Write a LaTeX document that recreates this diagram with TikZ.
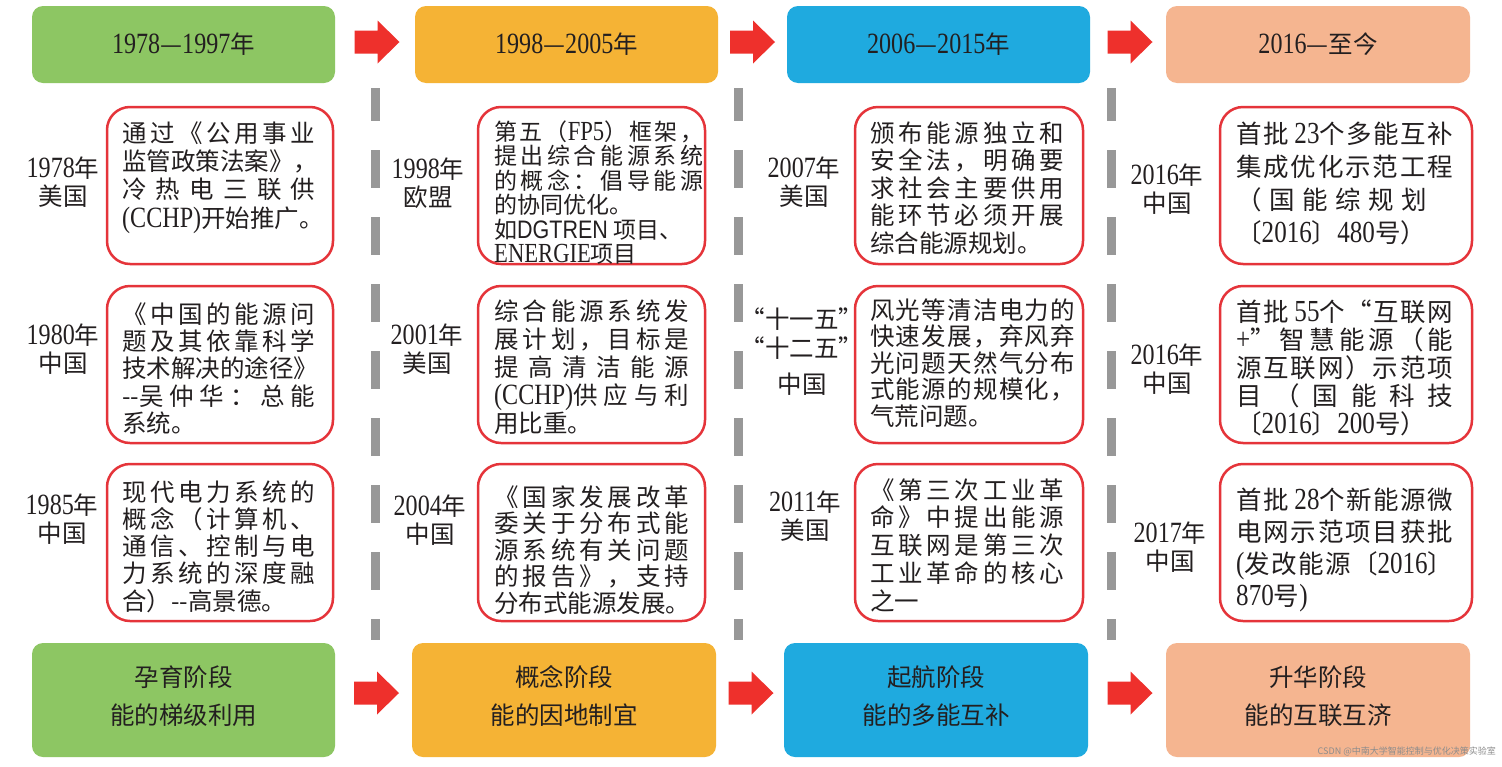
\documentclass[tikz,border=0pt]{standalone}
\usepackage{fontspec}
\usetikzlibrary{calc}
\newfontfamily\cjk{Noto Sans CJK SC}
\newfontfamily\tnr{Liberation Serif}[Scale=1.2,FakeStretch=0.82]
\newfontfamily\arialf{Liberation Sans}[Scale=1.1,FakeStretch=0.85]
\newcommand\T[1]{{\tnr #1}}
\newcommand\A[1]{{\arialf #1}}
\setlength\parindent{0pt}
% inter-character glue for justified CJK lines
\newcount\hcnt
\hcnt="4E00
\loop
  \XeTeXcharclass\hcnt=100
\ifnum\hcnt<"9FFF
  \advance\hcnt by 1
\repeat
\XeTeXcharclass`《=100 \XeTeXcharclass`》=100 \XeTeXcharclass`，=100
\XeTeXcharclass`。=100 \XeTeXcharclass`、=100 \XeTeXcharclass`：=100
\XeTeXcharclass`（=100 \XeTeXcharclass`）=100 \XeTeXcharclass`“=100
\XeTeXcharclass`”=100 \XeTeXcharclass`〔=100 \XeTeXcharclass`〕=100
\def\cjkglue{}
\XeTeXinterchartoks 100 100 = {\cjkglue}
\XeTeXinterchartokenstate=1
\newcommand\jb{\penalty-10000\relax}
\newcommand\rb{\hskip0pt plus 1fill\penalty-10000\relax}
\definecolor{cgreen}{HTML}{8DC663}
\definecolor{corange}{HTML}{F5B335}
\definecolor{cblue}{HTML}{1FAADF}
\definecolor{csalmon}{HTML}{F5B590}
\definecolor{boxred}{HTML}{E5343A}
\definecolor{arrowred}{HTML}{EE302C}
\definecolor{dashgray}{HTML}{989898}
\definecolor{textc}{HTML}{231F20}
\tikzset{
  phase/.style={rounded corners=11pt, minimum width=303pt, minimum height=77pt, inner sep=0pt,
    text=textc, font=\cjk\fontsize{24.5}{38}\selectfont, align=center},
  redbox/.style={draw=boxred, line width=2.5pt, rounded corners=23pt, minimum height=157pt, inner sep=0pt},
  yearlbl/.style={font=\cjk\fontsize{24.5}{28.5}\selectfont, align=center, inner sep=0pt, text=textc},
  desc/.style={align=justify, inner sep=0pt, text=textc},
  gline/.style={draw=dashgray, line width=9pt, dash pattern=on 38pt off 29pt, dash phase=5pt},
}
\newcommand\desc[7]{%
  \node[desc, text width=#4pt, anchor=north west, font=\cjk\fontsize{#6}{#5}\selectfont] (#1) at (#2,#3-14)
  {\def\cjkglue{\nobreak\hskip0pt plus 1fil\relax}\parfillskip=0pt plus 1fill\lineskiplimit=-100pt\baselineskip=#5pt\rule{0pt}{23pt}#7\par};}
\newcommand\blockarrow[1]{\fill[arrowred, shift={(#1)}] (-22.5,-11.5) -- (0.5,-11.5) -- (0.5,-21.5) -- (22.5,0) -- (0.5,21.5) -- (0.5,11.5) -- (-22.5,11.5) -- cycle;}
\begin{document}
\begin{tikzpicture}[x=1pt,y=-1pt]
\useasboundingbox (0,0) rectangle (1502,766);
\fill[white] (0,0) rectangle (1502,766);
% dashed separators
\draw[gline] (375,88) -- (375,640);
\draw[gline] (738,88) -- (738,640);
\draw[gline] (1111,88) -- (1111,640);
% top period boxes
\node[phase, fill=cgreen] (t1) at (183.5,44.5) {\T{1978}—\T{1997}年};
\node[phase, fill=corange] (t2) at (566.5,44.5) {\T{1998}—\T{2005}年};
\node[phase, fill=cblue] (t3) at (938.5,44.5) {\T{2006}—\T{2015}年};
\node[phase, fill=csalmon, minimum width=304pt] (t4) at (1318,44.5) {\T{2016}—至今};
% bottom stage boxes
\node[phase, fill=cgreen, minimum height=114pt] (s1) at (183.5,700) {孕育阶段\\能的梯级利用\rule[-10pt]{0pt}{10pt}};
\node[phase, fill=corange, minimum width=304pt, minimum height=114pt] (s2) at (564,700) {概念阶段\\能的因地制宜\rule[-10pt]{0pt}{10pt}};
\node[phase, fill=cblue, minimum width=304pt, minimum height=114pt] (s3) at (936,700) {起航阶段\\能的多能互补\rule[-10pt]{0pt}{10pt}};
\node[phase, fill=csalmon, minimum width=304pt, minimum height=114pt] (s4) at (1318,700) {升华阶段\\能的互联互济\rule[-10pt]{0pt}{10pt}};
% arrows
\coordinate (a1) at ($(t1.east)!0.5!(t2.west)+(2,-2.5)$);
\coordinate (a2) at ($(t2.east)!0.5!(t3.west)+(0,-2.5)$);
\coordinate (a3) at ($(t3.east)!0.5!(t4.west)+(2,-2.5)$);
\coordinate (a4) at ($(s1.east)!0.5!(s2.west)+(3,-7)$);
\coordinate (a5) at ($(s2.east)!0.5!(s3.west)+(1,-7)$);
\coordinate (a6) at ($(s3.east)!0.5!(s4.west)+(3,-7)$);
\blockarrow{a1}\blockarrow{a2}\blockarrow{a3}
\blockarrow{a4}\blockarrow{a5}\blockarrow{a6}
% red boxes
\node[redbox, minimum width=226pt] (b11) at (220,185.5) {};
\node[redbox, minimum width=226pt] (b12) at (220,364.5) {};
\node[redbox, minimum width=226pt] (b13) at (220,542.5) {};
\node[redbox, minimum width=227pt] (b21) at (591.5,185.5) {};
\node[redbox, minimum width=227pt] (b22) at (591.5,364.5) {};
\node[redbox, minimum width=227pt] (b23) at (591.5,542.5) {};
\node[redbox, minimum width=228pt] (b31) at (969,185.5) {};
\node[redbox, minimum width=228pt] (b32) at (969,364.5) {};
\node[redbox, minimum width=228pt] (b33) at (969,542.5) {};
\node[redbox, minimum width=252pt] (b41) at (1346,185.5) {};
\node[redbox, minimum width=252pt] (b42) at (1346,364.5) {};
\node[redbox, minimum width=252pt] (b43) at (1346,542.5) {};
% year labels
\node[yearlbl] (y11) at (63,182) {\T{1978}年\\美国};
\node[yearlbl] (y12) at (63,349) {\T{1980}年\\中国};
\node[yearlbl] (y13) at (62,519) {\T{1985}年\\中国};
\node[yearlbl] (y21) at (428,183) {\T{1998}年\\欧盟};
\node[yearlbl] (y22) at (427,349) {\T{2001}年\\美国};
\node[yearlbl] (y23) at (430,520) {\T{2004}年\\中国};
\node[yearlbl] (y31) at (804,182) {\T{2007}年\\美国};
\node[yearlbl] (y32) at (802,352) {“十一五”\\“十二五”\\[8pt]中国};
\node[yearlbl] (y33) at (805,516) {\T{2011}年\\美国};
\node[yearlbl] (y41) at (1167,189) {\T{2016}年\\中国};
\node[yearlbl] (y42) at (1167,369) {\T{2016}年\\中国};
\node[yearlbl] (y43) at (1170,547) {\T{2017}年\\中国};
% descriptions
\desc{d11}{122}{133}{193}{28.3}{24.5}{通过《公用事业\jb 监管政策法案》，\jb 冷热电三联供\jb \T{(CCHP)}开始推广。}
\desc{d12}{122}{314}{193}{27.3}{24.5}{《中国的能源问\jb 题及其依靠科学\jb 技术解决的途径》\jb --吴仲华：总能\jb 系统。}
\desc{d13}{122}{492}{193}{27.2}{24.5}{现代电力系统的\jb 概念（计算机、\jb 通信、控制与电\jb 力系统的深度融\jb 合）--高景德。}
\desc{d21}{494}{131}{209}{24.5}{23}{第五（\T{FP5}）框架，\jb 提出综合能源系统\jb 的概念：倡导能源\jb 的协同优化。\rb 如\A{DGTREN} 项目、\rb \T{ENERGIE}项目}
\desc{d22}{494}{311}{195}{28}{24.5}{综合能源系统发\jb 展计划，目标是\jb 提高清洁能源\jb \T{(CCHP)}供应与利\jb 用比重。}
\desc{d23}{494}{497}{195}{26.5}{24.5}{《国家发展改革\jb 委关于分布式能\jb 源系统有关问题\jb 的报告》，支持\jb 分布式能源发展。}
\desc{d31}{870}{133}{194}{27.5}{24.5}{颁布能源独立和\jb 安全法，明确要\jb 求社会主要供用\jb 能环节必须开展\jb 综合能源规划。}
\desc{d32}{870}{310}{205}{26.5}{24.5}{风光等清洁电力的\jb 快速发展，弃风弃\jb 光问题天然气分布\jb 式能源的规模化，\jb 气荒问题。}
\desc{d33}{870}{490}{194}{27.7}{24.5}{《第三次工业革\jb 命》中提出能源\jb 互联网是第三次\jb 工业革命的核心\jb 之一}
\desc{d41}{1236}{134}{217}{33}{25.5}{首批 \T{23}个多能互补\jb 集成优化示范工程\jb （国能综规划\hspace{26pt}\jb 〔\T{2016}〕\T{480}号）}
\desc{d42}{1236}{312}{217}{28}{25.5}{首批 \T{55}个“互联网\jb \T{+}”智慧能源（能\jb 源互联网）示范项\jb 目（国能科技\jb 〔\T{2016}〕\T{200}号）}
\desc{d43}{1236}{500}{217}{32}{25.5}{首批 \T{28}个新能源微\jb 电网示范项目获批\jb \T{(}发改能源〔\T{2016}〕\jb \T{870}号\T{)}}
% watermark
\node[font=\cjk\fontsize{9}{9}\selectfont, text=black!45, anchor=east, inner sep=0pt] (wm) at (1496,751) {CSDN @中南大学智能控制与优化决策实验室};
\end{tikzpicture}
\end{document}
